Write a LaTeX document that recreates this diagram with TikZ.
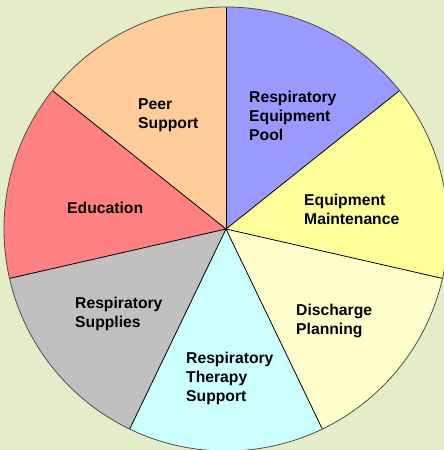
\documentclass[tikz,border=0pt]{standalone}
\usepackage{fontspec}
\setmainfont{Liberation Sans}
\usetikzlibrary{calc}
\definecolor{bg}{HTML}{E4EDC8}
\definecolor{cblue}{HTML}{9999FF}
\definecolor{cyellow}{HTML}{FFFF99}
\definecolor{clyellow}{HTML}{FFFFCC}
\definecolor{ccyan}{HTML}{CCFFFF}
\definecolor{cgray}{HTML}{C0C0C0}
\definecolor{cred}{HTML}{FF8080}
\definecolor{cpeach}{HTML}{FFCC99}
\begin{document}
\begin{tikzpicture}[x=1pt,y=1pt,
  lbl/.style={font=\fontsize{15.7}{19}\selectfont\bfseries, align=left, anchor=base west, inner sep=0pt},
  divider/.style={draw=black, line width=0.8pt},
  rim/.style={draw=black!70, line width=0.8pt}]
\useasboundingbox (0,0) rectangle (444,450);
\clip (0,0) rectangle (444,450);
\fill[bg] (0,0) rectangle (444,450);
\coordinate (c) at (226,221);
\def\R{222}
\foreach \col [count=\k from 0] in {cblue,cyellow,clyellow,ccyan,cgray,cred,cpeach}{
  \pgfmathsetmacro\aa{90-\k*360/7}
  \pgfmathsetmacro\ab{90-(\k+1)*360/7}
  \fill[\col] (c) -- ++(\aa:\R) arc[start angle=\aa, end angle=\ab, radius=\R] -- cycle;
}
\foreach \k in {0,...,6}{
  \pgfmathsetmacro\aa{90-\k*360/7}
  \coordinate (p\k) at ($(c)+(\aa:\R)$);
}
\foreach \k in {0,...,6}{
  \draw[divider] (c) -- (p\k);
}
\draw[rim] (c) circle[radius=\R];
\node[lbl] (pool) at (249,309) {Respiratory\\Equipment\\Pool};
\node[lbl] (maint) at (304,225) {Equipment\\Maintenance};
\node[lbl] (disch) at (296,115) {Discharge\\Planning};
\node[lbl] (therapy) at (186,48) {Respiratory\\Therapy\\Support};
\node[lbl] (supplies) at (75,122) {Respiratory\\Supplies};
\node[lbl] (edu) at (67,236) {Education};
\node[lbl] (peer) at (138,321) {Peer\\Support};
\end{tikzpicture}
\end{document}
